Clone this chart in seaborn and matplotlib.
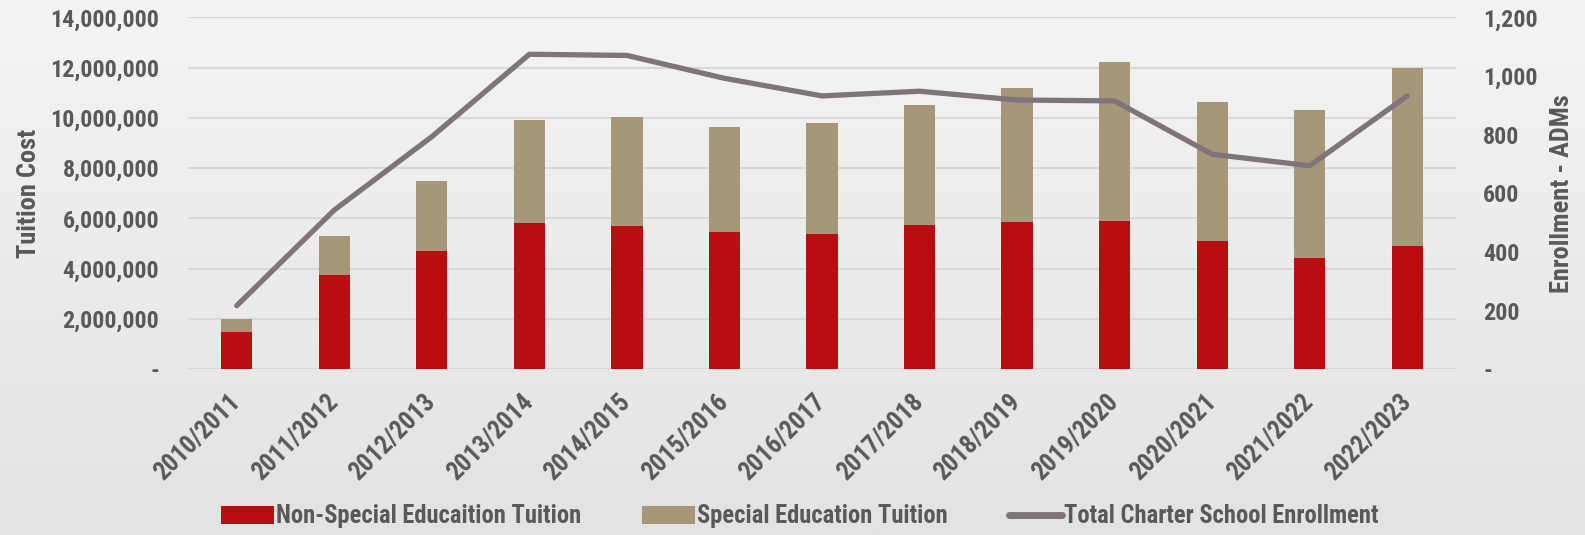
import numpy as np
import pandas as pd
import matplotlib
matplotlib.use("Agg")
import matplotlib.pyplot as plt
from matplotlib import font_manager
from matplotlib.textpath import TextPath
from matplotlib.ticker import FuncFormatter, MultipleLocator
from matplotlib.patches import Patch
from matplotlib.lines import Line2D
import seaborn as sns

# School years
years = ["2010/2011", "2011/2012", "2012/2013", "2013/2014", "2014/2015",
         "2015/2016", "2016/2017", "2017/2018", "2018/2019", "2019/2020",
         "2020/2021", "2021/2022", "2022/2023"]

# Tuition paid (dollars)
non_special_tuition = [1500000, 3750000, 4720000, 5820000, 5710000, 5460000,
                       5390000, 5740000, 5870000, 5910000, 5100000, 4440000,
                       4900000]
special_tuition = [490000, 1550000, 2760000, 4100000, 4310000, 4180000,
                   4420000, 4770000, 5320000, 6330000, 5530000, 5870000,
                   7080000]

# Total charter school enrollment (ADMs)
enrollment = [217, 543, 793, 1074, 1070, 992, 932, 948, 918, 915, 733, 694, 932]

RED = "#b80e10"
TAN = "#a6977a"
LINE = "#7f7479"
TEXT = "#595959"
GRID = "#d8d8d8"
DPI = 100

sns.set_theme(style="white")
plt.rcParams["font.family"] = ["DejaVu Sans"]


def pick_font():
    """Prefer a bold condensed/narrow face; fall back to DejaVu Sans Bold."""
    cands = []
    for f in font_manager.fontManager.ttflist:
        name = f.name.lower()
        narrow = ("narrow" in name or "condensed" in name
                  or "condensed" in str(f.stretch) or "Condensed" in f.fname
                  or "Narrow" in f.fname)
        bold = (f.weight in ("bold", 700, "heavy", 800, 900)
                or (isinstance(f.weight, int) and f.weight >= 700)
                or "Bold" in f.fname)
        if narrow and bold and "Oblique" not in f.fname and "Italic" not in f.fname:
            cands.append(f.fname)
    if cands:
        cands.sort(key=lambda p: (0 if "Liberation" in p else 1 if "Roboto" in p else 2, p))
        return font_manager.FontProperties(fname=cands[0])
    return font_manager.FontProperties(family="DejaVu Sans", weight="bold")


FP = pick_font()


def fit_size(text, width_px):
    w = TextPath((0, 0), text, size=10, prop=FP).get_extents().width / 10.0
    return width_px * 72.0 / (DPI * w)


def fp(size):
    p = FP.copy()
    p.set_size(size)
    return p


def px(v):
    return v * 72.0 / DPI


ytick_size = fit_size("14,000,000", 106)
xtick_size = fit_size("2010/2011", 106)
ylab_size = fit_size("Tuition Cost", 128)
ylab2_size = fit_size("Enrollment - ADMs", 196)
legend_size = fit_size("Non-Special Educaition Tuition", 302)
leg_px = legend_size * DPI / 72.0

df = pd.DataFrame({
    "year": years,
    "non_special": non_special_tuition,
    "special": special_tuition,
    "enrollment": enrollment,
})
df["total"] = df["non_special"] + df["special"]

fig = plt.figure(figsize=(15.85, 5.35), dpi=DPI)

# soft light-grey backdrop
bg = fig.add_axes([0, 0, 1, 1], zorder=-10)
grad = np.linspace(0, 1, 256)[:, None]
bg.imshow(grad, aspect="auto", cmap=matplotlib.colors.LinearSegmentedColormap.from_list(
    "bg", ["#f4f4f4", "#e3e3e3"]), extent=[0, 1, 0, 1])
bg.set_axis_off()

left, right = 188 / 1585, 1456 / 1585
bottom, top = 1 - 369.3 / 535, 1 - 17.3 / 535
ax = fig.add_axes([left, bottom, right - left, top - bottom])
ax.set_facecolor("none")

sns.barplot(data=df, x="year", y="total", color=TAN, width=0.32,
            saturation=1, ax=ax, zorder=3, edgecolor="none")
sns.barplot(data=df, x="year", y="non_special", color=RED, width=0.32,
            saturation=1, ax=ax, zorder=4, edgecolor="none")

ax.set_xlim(-0.5, len(years) - 0.5)
ax.set_ylim(0, 14000000)
ax.yaxis.set_major_locator(MultipleLocator(2000000))
ax.yaxis.set_major_formatter(FuncFormatter(lambda v, p: "-" if v == 0 else f"{v:,.0f}"))
ax.grid(axis="y", color=GRID, linewidth=1.5, zorder=0)
ax.set_axisbelow(True)
for s in ax.spines.values():
    s.set_visible(False)
ax.tick_params(axis="y", length=0, pad=px(29), labelcolor=TEXT)
ax.tick_params(axis="x", length=0, pad=px(29), labelcolor=TEXT)
for lbl in ax.get_yticklabels():
    lbl.set_fontproperties(fp(ytick_size))
for lbl in ax.get_xticklabels():
    lbl.set_fontproperties(fp(xtick_size))
    lbl.set_rotation(45)
    lbl.set_ha("right")
    lbl.set_va("center")
    lbl.set_rotation_mode("anchor")
ax.set_xlabel("")
ax.set_ylabel("Tuition Cost", fontproperties=fp(ylab_size), color=TEXT)
ax.yaxis.set_label_coords(-0.116, 0.5)

ax2 = ax.twinx()
sns.lineplot(x=np.arange(len(years)), y=df["enrollment"], color=LINE,
             linewidth=3.8, ax=ax2, zorder=5, solid_capstyle="round")
ax2.set_ylim(0, 1200)
ax2.yaxis.set_major_locator(MultipleLocator(200))
ax2.yaxis.set_major_formatter(FuncFormatter(lambda v, p: "-" if v == 0 else f"{v:,.0f}"))
for s in ax2.spines.values():
    s.set_visible(False)
ax2.tick_params(axis="y", length=0, pad=px(27), labelcolor=TEXT)
for lbl in ax2.get_yticklabels():
    lbl.set_fontproperties(fp(ytick_size))
ax2.set_ylabel("Enrollment - ADMs", fontproperties=fp(ylab2_size), color=TEXT)
ax2.yaxis.set_label_coords(1.0745, 0.5)
ax2.grid(False)

handles = [
    Patch(facecolor=RED, edgecolor="none"),
    Patch(facecolor=TAN, edgecolor="none"),
    Line2D([0], [0], color=LINE, linewidth=5),
]
labels = ["Non-Special Educaition Tuition", "Special Education Tuition",
          "Total Charter School Enrollment"]
leg = fig.legend(handles, labels, loc="center", bbox_to_anchor=(0.5045, 0.035),
                 ncol=3, frameon=False, prop=fp(legend_size), labelcolor=TEXT,
                 handlelength=53 / leg_px, handleheight=18 / leg_px,
                 handletextpad=2 / leg_px, columnspacing=61 / leg_px)

fig.savefig("out.png", dpi=DPI)
